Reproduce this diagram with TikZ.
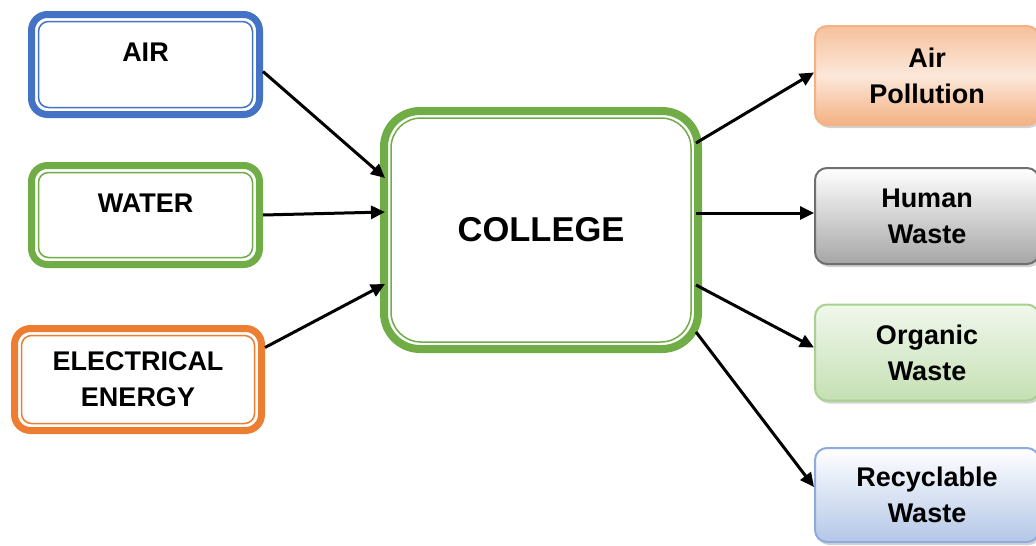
\documentclass[tikz,border=0pt]{standalone}
\usepackage{fontspec}
\setmainfont{Liberation Sans}
\usetikzlibrary{arrows.meta,shadows}

\definecolor{airblue}{HTML}{4472C4}
\definecolor{watergreen}{HTML}{70AD47}
\definecolor{energyorange}{HTML}{ED7D31}
\definecolor{pollline}{HTML}{F4B183}
\definecolor{pollfill}{HTML}{F4B183}
\definecolor{humanline}{HTML}{6F6F6F}
\definecolor{humanfill}{HTML}{A6A6A6}
\definecolor{organicline}{HTML}{A9D18E}
\definecolor{organicfill}{HTML}{C5E0B4}
\definecolor{recycleline}{HTML}{8FAADC}
\definecolor{recyclefill}{HTML}{B4C7E7}

\tikzset{
    inbox/.style={draw=#1, line width=7pt, rounded corners=16pt, fill=white, inner sep=0pt,
        align=center, font=\fontsize{27}{36}\selectfont\bfseries},
    toptext/.style={text height=20pt, text depth=26pt},
    outbox/.style 2 args={draw=#1, line width=2pt, rounded corners=12pt, top color=white, bottom color=#2,
        minimum width=224pt, minimum height=96pt, inner sep=0pt, align=center,
        font=\fontsize{27}{36}\selectfont\bfseries,
        drop shadow={shadow xshift=2pt, shadow yshift=-3pt, fill=black!35}},
    flow/.style={line width=3pt, -{Triangle[length=14pt,width=13pt]}}
}

\begin{document}
\begin{tikzpicture}[x=1pt,y=-1pt]
        \useasboundingbox (0,0) rectangle (1036,546);

        \node[inbox=airblue, toptext, minimum width=228pt, minimum height=100pt] (air) at (145.5,64.5) {AIR};
        \node[inbox=watergreen, toptext, minimum width=228pt, minimum height=99pt] (water) at (145.5,215) {WATER};
        \node[inbox=energyorange, minimum width=247pt, minimum height=102pt] (energy) at (138,379.5) {ELECTRICAL\\ENERGY};

        \node[inbox=watergreen, line width=8pt, rounded corners=36pt, minimum width=314pt, minimum height=238pt,
            font=\fontsize{34.5}{40}\selectfont\bfseries] (college) at (541,230) {COLLEGE};

        \foreach \n/\c in {air/airblue, water/watergreen, energy/energyorange}
            \draw[\c, line width=1.5pt, rounded corners=10pt] ([shift={(10.5,10.5)}]\n.north west) rectangle ([shift={(-10.5,-10.5)}]\n.south east);
        \draw[watergreen, line width=1.5pt, rounded corners=30pt] ([shift={(11,11)}]college.north west) rectangle ([shift={(-11,-11)}]college.south east);

        \node[outbox={pollline}{pollfill}, top color=pollfill!80, middle color=pollfill!30, minimum height=99pt] (pollution) at (927,75.5) {Air\\Pollution};
        \node[outbox={humanline}{humanfill}] (human) at (927,216) {Human\\Waste};
        \node[outbox={organicline}{organicfill}, top color=organicfill!25] (organic) at (927,352.5) {Organic\\Waste};
        \node[outbox={recycleline}{recyclefill}, minimum height=94pt] (recyclable) at (927,495) {Recyclable\\Waste};

        \draw[flow] ([yshift=-7pt]air.east) -- ([shift={(5pt,52pt)}]college.west);
        \draw[flow] (water.east) -- ([shift={(5pt,18pt)}]college.west);
        \draw[flow] ([yshift=32pt]energy.east) -- ([shift={(5pt,-54pt)}]college.west);

        \draw[flow] ([shift={(-6pt,87pt)}]college.east) -- ([yshift=3pt]pollution.west);
        \draw[flow] ([shift={(-6pt,17pt)}]college.east) -- ([yshift=3pt]human.west);
        \draw[flow] ([shift={(-6pt,-55pt)}]college.east) -- ([yshift=5pt]organic.west);
        \draw[flow] ([shift={(-6pt,-102pt)}]college.east) -- ([yshift=8pt]recyclable.west);
    \end{tikzpicture}
\end{document}
